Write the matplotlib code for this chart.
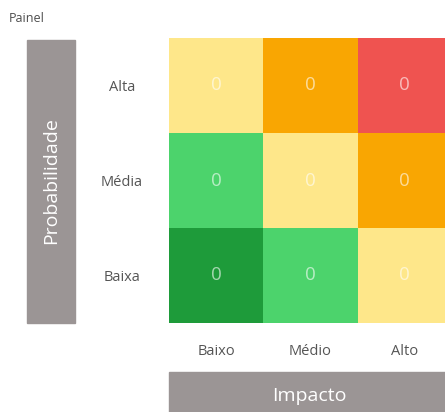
import matplotlib
matplotlib.use("Agg")
import matplotlib.pyplot as plt
from matplotlib.colors import ListedColormap
from matplotlib.patches import Rectangle
import numpy as np

plt.rcParams['font.family'] = ['Open Sans', 'DejaVu Sans']

# Data
impacto = ["Baixo", "Médio", "Alto"]
probabilidade = ["Baixa", "Média", "Alta"]          # bottom to top
contagem = [[0, 0, 0],                              # Baixa
            [0, 0, 0],                              # Média
            [0, 0, 0]]                              # Alta
nivel = [[0, 1, 2],                                 # risk level of each cell
         [1, 2, 3],
         [2, 3, 4]]

cores = ["#1e9b3a", "#4cd36c", "#fee78a", "#f9a602", "#ef5350"]
cmap = ListedColormap(cores)

W, H = 445, 412
fig = plt.figure(figsize=(W / 100, H / 100), dpi=100)

# heatmap axes (right column runs off the figure, like the original)
ax = fig.add_axes([169 / W, 1 - 323 / H, 283 / W, 285 / H])
ax.imshow(np.array(nivel), cmap=cmap, vmin=-0.5, vmax=4.5,
          origin="lower", aspect="auto", interpolation="nearest")
for i in range(3):
    for j in range(3):
        ax.text(j, i, str(contagem[i][j]), ha="center", va="center",
                fontsize=13.5, color="white", alpha=0.6)
ax.set_xticks(range(3))
ax.set_xticklabels(impacto)
ax.set_yticks(range(3))
ax.set_yticklabels(probabilidade, ha="center")
ax.tick_params(length=0, labelsize=10.5, labelcolor="#555555")
ax.tick_params(axis="x", pad=15)
ax.tick_params(axis="y", pad=34)
for s in ax.spines.values():
    s.set_visible(False)

# grey axis title bars
cinza = "#9b9595"
fig.patches.append(Rectangle((27 / W, 1 - 323 / H), 48 / W, 283 / H,
                             transform=fig.transFigure, color=cinza))
fig.text(51 / W, 1 - 181 / H, "Probabilidade", rotation=90, ha="center",
         va="center", fontsize=14, color="white")
fig.patches.append(Rectangle((169 / W, 0), 276 / W, 40 / H,
                             transform=fig.transFigure, color=cinza))
fig.text(309 / W, 1 - 396 / H, "Impacto", ha="center", va="center",
         fontsize=14, color="white")

fig.text(9 / W, 1 - 19 / H, "Painel", ha="left", va="center",
         fontsize=9, color="#4d4d4d")

fig.savefig("out.png", dpi=100)
